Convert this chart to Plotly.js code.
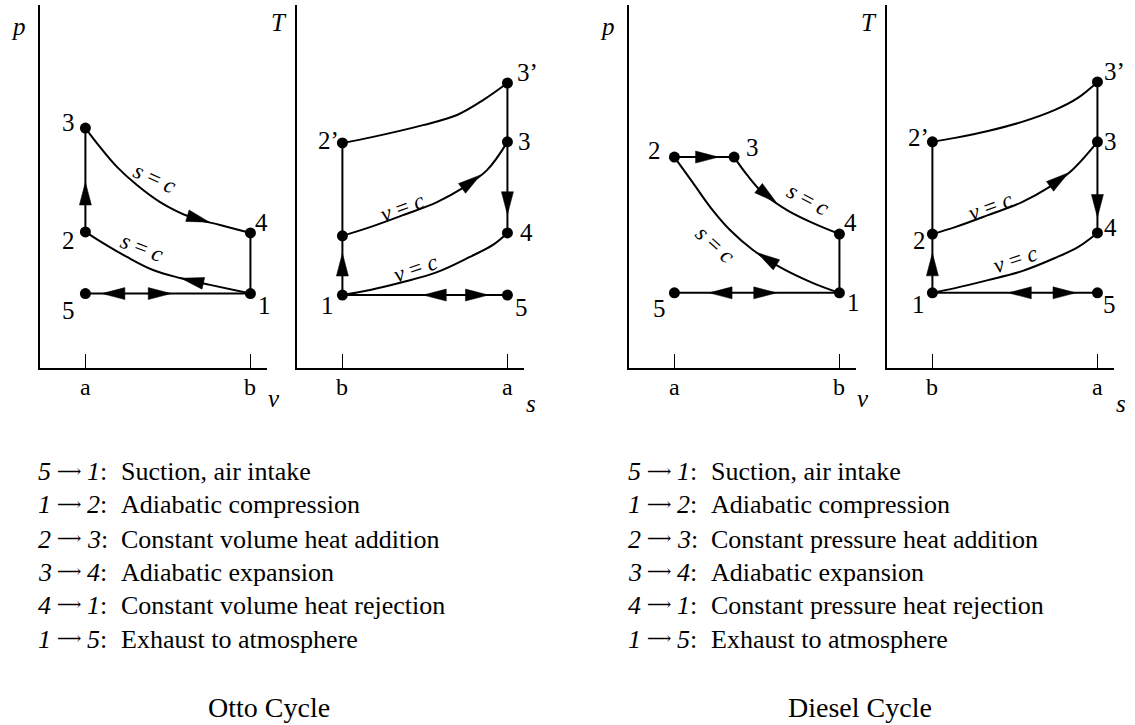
<!DOCTYPE html>
<html>
<head>
<meta charset="utf-8">
<script src="https://cdn.plot.ly/plotly-3.0.1.min.js"></script>
<style>html,body{margin:0;padding:0;background:#fff;}#chart{width:1135px;height:725px;}</style>
</head>
<body>
<div id="chart"></div>
<script>
// ---------------- DATA (schematic values) ----------------
const tickVals = [2.0, 9.27];
const pvTickText = ['a', 'b'];
const tsTickText = ['b', 'a'];

// Otto cycle, p-v diagram
const ottoPV_labels = ['1', '2', '3', '4', '5'];
const ottoPV_v = [9.27, 2.0, 2.0, 9.27, 2.0];
const ottoPV_p = [2.05, 3.75, 6.61, 3.72, 2.05];
const ottoPV_comp_v = [9.27, 7.49, 6.17, 4.98, 3.83, 2.78, 2.0];      // 1 -> 2 (s = c)
const ottoPV_comp_p = [2.05, 2.29, 2.48, 2.70, 3.06, 3.44, 3.75];
const ottoPV_exp_v = [2.0, 2.64, 3.39, 4.27, 5.29, 6.61, 7.93, 9.27]; // 3 -> 4 (s = c)
const ottoPV_exp_p = [6.61, 6.09, 5.54, 5.04, 4.57, 4.16, 3.94, 3.72];

// Otto cycle, T-s diagram
const ottoTS_labels = ['1', '2', '2’', '3', '3’', '4', '5'];
const ottoTS_s = [2.0, 2.0, 2.0, 9.27, 9.27, 9.27, 9.27];
const ottoTS_T = [2.01, 3.64, 6.20, 6.23, 7.85, 3.72, 2.01];
const ottoTS_heat_s = [2.0, 3.22, 4.67, 6.17, 7.31, 8.37, 9.27];    // 2 -> 3 (v = c)
const ottoTS_heat_T = [3.64, 3.88, 4.21, 4.57, 4.96, 5.45, 6.23];
const ottoTS_rej_s = [2.0, 3.22, 4.67, 6.17, 7.62, 8.63, 9.27];     // 1 -> 4 (v = c)
const ottoTS_rej_T = [2.01, 2.15, 2.37, 2.64, 3.06, 3.39, 3.72];
const ottoTS_top_s = [2.0, 3.30, 5.55, 7.05, 8.20, 9.27];           // 2' -> 3'
const ottoTS_top_T = [6.20, 6.36, 6.69, 6.97, 7.38, 7.85];

// Diesel cycle, p-v diagram
const dieselPV_labels = ['1', '2', '3', '4', '5'];
const dieselPV_v = [9.27, 2.0, 4.63, 9.27, 2.0];
const dieselPV_p = [2.07, 5.81, 5.81, 3.69, 2.07];
const dieselPV_comp_v = [9.27, 8.11, 6.65, 5.46, 4.45, 3.57, 2.82, 2.0]; // 1 -> 2 (s = c)
const dieselPV_comp_p = [2.07, 2.34, 2.78, 3.25, 3.80, 4.44, 5.10, 5.81];
const dieselPV_exp_v = [4.63, 5.20, 5.90, 6.96, 8.11, 9.27];             // 3 -> 4 (s = c)
const dieselPV_exp_p = [5.81, 5.32, 4.82, 4.35, 3.99, 3.69];

// Diesel cycle, T-s diagram
const dieselTS_labels = ['1', '2', '2’', '3', '3’', '4', '5'];
const dieselTS_s = [2.0, 2.0, 2.0, 9.27, 9.27, 9.27, 9.27];
const dieselTS_T = [2.07, 3.69, 6.23, 6.23, 7.88, 3.72, 2.07];
const dieselTS_heat_s = [2.0, 3.0, 4.45, 5.95, 7.09, 8.15, 9.27];
const dieselTS_heat_T = [3.69, 3.88, 4.21, 4.57, 4.96, 5.45, 6.23];
const dieselTS_rej_s = [2.0, 3.0, 4.45, 5.95, 7.40, 8.41, 9.27];
const dieselTS_rej_T = [2.07, 2.20, 2.42, 2.67, 3.03, 3.33, 3.72];
const dieselTS_top_s = [2.0, 3.0, 4.45, 5.95, 7.40, 8.41, 9.27];
const dieselTS_top_T = [6.23, 6.34, 6.53, 6.78, 7.11, 7.44, 7.88];

// Process descriptions
const stepFrom = ['5', '1', '2', '3', '4', '1'];
const stepTo = ['1', '2', '3', '4', '1', '5'];
const ottoDesc = ['Suction, air intake', 'Adiabatic compression', 'Constant volume heat addition',
  'Adiabatic expansion', 'Constant volume heat rejection', 'Exhaust to atmosphere'];
const dieselDesc = ['Suction, air intake', 'Adiabatic compression', 'Constant pressure heat addition',
  'Adiabatic expansion', 'Constant pressure heat rejection', 'Exhaust to atmosphere'];
const ottoTitle = 'Otto Cycle';
const dieselTitle = 'Diesel Cycle';

// ---------------- LAYOUT / STYLE ----------------
const W = 1135, H = 725;
const FONT = 'Liberation Serif, Times New Roman, serif';
const TOP = 5, BOTTOM = 368;
const XR = [0, 10], YR = [0, 10];
const panels = [
  {xa: 'x', ya: 'y', left: 40, right: 267, xlab: 'v', ylab: 'p', ticks: pvTickText},
  {xa: 'x2', ya: 'y2', left: 297, right: 524, xlab: 's', ylab: 'T', ticks: tsTickText},
  {xa: 'x3', ya: 'y3', left: 629, right: 856, xlab: 'v', ylab: 'p', ticks: pvTickText},
  {xa: 'x4', ya: 'y4', left: 887, right: 1114, xlab: 's', ylab: 'T', ticks: tsTickText},
];

function toPx(p, x, y) {
  return [p.left + (x - XR[0]) / (XR[1] - XR[0]) * (p.right - p.left),
          BOTTOM - (y - YR[0]) / (YR[1] - YR[0]) * (BOTTOM - TOP)];
}
function toData(p, px, py) {
  return [XR[0] + (px - p.left) / (p.right - p.left) * (XR[1] - XR[0]),
          YR[0] + (BOTTOM - py) / (BOTTOM - TOP) * (YR[1] - YR[0])];
}
function pointAtLen(pts, cum, L) {
  L = Math.max(0, Math.min(cum[cum.length - 1], L));
  for (let i = 1; i < pts.length; i++) {
    if (cum[i] >= L) {
      const f = (L - cum[i - 1]) / ((cum[i] - cum[i - 1]) || 1);
      return [pts[i - 1][0] + f * (pts[i][0] - pts[i - 1][0]), pts[i - 1][1] + f * (pts[i][1] - pts[i - 1][1])];
    }
  }
  return pts[pts.length - 1];
}
function arrowTrace(p, xs, ys, t) {
  const HL = 23, HW = 12;
  const pts = xs.map((x, i) => toPx(p, x, ys[i]));
  const cum = [0];
  for (let i = 1; i < pts.length; i++) cum.push(cum[i - 1] + Math.hypot(pts[i][0] - pts[i - 1][0], pts[i][1] - pts[i - 1][1]));
  const target = t * cum[cum.length - 1];
  const tip = pointAtLen(pts, cum, target);
  const back = pointAtLen(pts, cum, target - HL);
  let dx = tip[0] - back[0], dy = tip[1] - back[1];
  const n = Math.hypot(dx, dy) || 1; dx /= n; dy /= n;
  const bx = tip[0] - dx * HL, by = tip[1] - dy * HL;
  const c1 = [bx - dy * HW / 2, by + dx * HW / 2];
  const c2 = [bx + dy * HW / 2, by - dx * HW / 2];
  const poly = [tip, c1, c2, tip].map(q => toData(p, q[0], q[1]));
  return {type: 'scatter', mode: 'lines', x: poly.map(q => q[0]), y: poly.map(q => q[1]),
    xaxis: p.xa, yaxis: p.ya, fill: 'toself', fillcolor: 'black',
    line: {color: 'black', width: 0.5}, hoverinfo: 'skip', cliponaxis: false};
}
function lineTrace(p, xs, ys, spline) {
  return {type: 'scatter', mode: 'lines', x: xs, y: ys, xaxis: p.xa, yaxis: p.ya,
    line: {color: 'black', width: 2, shape: spline ? 'spline' : 'linear', smoothing: 1},
    hoverinfo: 'skip', cliponaxis: false};
}
function markerTrace(p, xs, ys) {
  return {type: 'scatter', mode: 'markers', x: xs, y: ys, xaxis: p.xa, yaxis: p.ya,
    marker: {color: 'black', size: 11}, hoverinfo: 'skip', cliponaxis: false};
}
function st(labels, xs, ys, name) { const i = labels.indexOf(name); return [xs[i], ys[i]]; }
function seg(labels, xs, ys, a, b) {
  const A = st(labels, xs, ys, a), B = st(labels, xs, ys, b);
  return [[A[0], B[0]], [A[1], B[1]]];
}

const traces = [];
const annotations = [];

// ---- Panel 1: Otto p-v
{
  const p = panels[0], L = ottoPV_labels, X = ottoPV_v, Y = ottoPV_p;
  const s51 = seg(L, X, Y, '5', '1'), s15 = seg(L, X, Y, '1', '5');
  const s23 = seg(L, X, Y, '2', '3'), s41 = seg(L, X, Y, '4', '1');
  traces.push(lineTrace(p, s51[0], s51[1]));
  traces.push(lineTrace(p, s23[0], s23[1]));
  traces.push(lineTrace(p, s41[0], s41[1]));
  traces.push(lineTrace(p, ottoPV_comp_v, ottoPV_comp_p, true));
  traces.push(lineTrace(p, ottoPV_exp_v, ottoPV_exp_p, true));
  traces.push(arrowTrace(p, s23[0], s23[1], 0.48));
  traces.push(arrowTrace(p, ottoPV_exp_v, ottoPV_exp_p, 0.79));
  traces.push(arrowTrace(p, ottoPV_comp_v, ottoPV_comp_p, 0.40));
  traces.push(arrowTrace(p, s15[0], s15[1], 0.90));
  traces.push(arrowTrace(p, s51[0], s51[1], 0.52));
  traces.push(markerTrace(p, X, Y));
  p.offsets = {'1': [14, -12], '2': [-17, -9], '3': [-17, 6], '4': [11, 10], '5': [-17, -17]};
  p.L = L; p.X = X; p.Y = Y;
  p.curveText = [
    {x: 5.07, y: 5.23, angle: 24, t: '<i>s</i> = <i>c</i>'},
    {x: 4.49, y: 3.31, angle: 21, t: '<i>s</i> = <i>c</i>'}];
}
// ---- Panel 2: Otto T-s
{
  const p = panels[1], L = ottoTS_labels, X = ottoTS_s, Y = ottoTS_T;
  const s15 = seg(L, X, Y, '1', '5'), s51 = seg(L, X, Y, '5', '1');
  const s12 = seg(L, X, Y, '1', '2'), s22 = seg(L, X, Y, '2', '2’');
  const s33 = seg(L, X, Y, '3’', '3'), s34 = seg(L, X, Y, '3', '4');
  traces.push(lineTrace(p, s15[0], s15[1]));
  traces.push(lineTrace(p, s12[0], s12[1]));
  traces.push(lineTrace(p, s22[0], s22[1]));
  traces.push(lineTrace(p, s33[0], s33[1]));
  traces.push(lineTrace(p, s34[0], s34[1]));
  traces.push(lineTrace(p, ottoTS_heat_s, ottoTS_heat_T, true));
  traces.push(lineTrace(p, ottoTS_rej_s, ottoTS_rej_T, true));
  traces.push(lineTrace(p, ottoTS_top_s, ottoTS_top_T, true));
  traces.push(arrowTrace(p, s12[0], s12[1], 0.71));
  traces.push(arrowTrace(p, ottoTS_heat_s, ottoTS_heat_T, 0.78));
  traces.push(arrowTrace(p, s34[0], s34[1], 0.80));
  traces.push(arrowTrace(p, s51[0], s51[1], 0.51));
  traces.push(arrowTrace(p, s15[0], s15[1], 0.885));
  traces.push(markerTrace(p, X, Y));
  p.offsets = {'1': [-15, -10], '2’': [-14, 2], '3': [17, 0], '3’': [20, 11], '4': [19, 0], '5': [14, -12]};
  p.L = L; p.X = X; p.Y = Y;
  p.curveText = [
    {x: 4.63, y: 4.41, angle: -20, t: '<i>v</i> = <i>c</i>'},
    {x: 5.20, y: 2.75, angle: -19, t: '<i>v</i> = <i>c</i>'}];
}
// ---- Panel 3: Diesel p-v
{
  const p = panels[2], L = dieselPV_labels, X = dieselPV_v, Y = dieselPV_p;
  const s51 = seg(L, X, Y, '5', '1'), s15 = seg(L, X, Y, '1', '5');
  const s23 = seg(L, X, Y, '2', '3'), s41 = seg(L, X, Y, '4', '1');
  traces.push(lineTrace(p, s51[0], s51[1]));
  traces.push(lineTrace(p, s23[0], s23[1]));
  traces.push(lineTrace(p, s41[0], s41[1]));
  traces.push(lineTrace(p, dieselPV_comp_v, dieselPV_comp_p, true));
  traces.push(lineTrace(p, dieselPV_exp_v, dieselPV_exp_p, true));
  traces.push(arrowTrace(p, s23[0], s23[1], 0.74));
  traces.push(arrowTrace(p, dieselPV_exp_v, dieselPV_exp_p, 0.47));
  traces.push(arrowTrace(p, dieselPV_comp_v, dieselPV_comp_p, 0.42));
  traces.push(arrowTrace(p, s15[0], s15[1], 0.79));
  traces.push(arrowTrace(p, s51[0], s51[1], 0.62));
  traces.push(markerTrace(p, X, Y));
  p.offsets = {'1': [14, -10], '2': [-20, 7], '3': [18, 10], '4': [11, 12], '5': [-15, -16]};
  p.L = L; p.X = X; p.Y = Y;
  p.curveText = [
    {x: 7.89, y: 4.63, angle: 28, t: '<i>s</i> = <i>c</i>'},
    {x: 3.79, y: 3.39, angle: 42, t: '<i>s</i> = <i>c</i>'}];
}
// ---- Panel 4: Diesel T-s
{
  const p = panels[3], L = dieselTS_labels, X = dieselTS_s, Y = dieselTS_T;
  const s15 = seg(L, X, Y, '1', '5'), s51 = seg(L, X, Y, '5', '1');
  const s12 = seg(L, X, Y, '1', '2'), s22 = seg(L, X, Y, '2', '2’');
  const s33 = seg(L, X, Y, '3’', '3'), s34 = seg(L, X, Y, '3', '4');
  traces.push(lineTrace(p, s15[0], s15[1]));
  traces.push(lineTrace(p, s12[0], s12[1]));
  traces.push(lineTrace(p, s22[0], s22[1]));
  traces.push(lineTrace(p, s33[0], s33[1]));
  traces.push(lineTrace(p, s34[0], s34[1]));
  traces.push(lineTrace(p, dieselTS_heat_s, dieselTS_heat_T, true));
  traces.push(lineTrace(p, dieselTS_rej_s, dieselTS_rej_T, true));
  traces.push(lineTrace(p, dieselTS_top_s, dieselTS_top_T, true));
  traces.push(arrowTrace(p, s12[0], s12[1], 0.68));
  traces.push(arrowTrace(p, dieselTS_heat_s, dieselTS_heat_T, 0.78));
  traces.push(arrowTrace(p, s34[0], s34[1], 0.83));
  traces.push(arrowTrace(p, s51[0], s51[1], 0.54));
  traces.push(arrowTrace(p, s15[0], s15[1], 0.87));
  traces.push(markerTrace(p, X, Y));
  p.offsets = {'1': [-14, -12], '2': [-13, -6], '2’': [-14, 4], '3': [13, 0], '3’': [17, 10], '4': [13, 5], '5': [12, -12]};
  p.L = L; p.X = X; p.Y = Y;
  p.curveText = [
    {x: 4.54, y: 4.44, angle: -20, t: '<i>v</i> = <i>c</i>'},
    {x: 5.64, y: 2.98, angle: -18, t: '<i>v</i> = <i>c</i>'}];
}

// state labels, curve labels, axis letters, tick labels
panels.forEach(p => {
  p.L.forEach((lab, i) => {
    const off = p.offsets[lab];
    if (!off) return;
    annotations.push({xref: p.xa, yref: p.ya, x: p.X[i], y: p.Y[i], text: lab, showarrow: false,
      xshift: off[0], yshift: off[1], xanchor: 'center', yanchor: 'middle',
      font: {family: FONT, size: 25, color: 'black'}});
  });
  p.curveText.forEach(c => {
    annotations.push({xref: p.xa, yref: p.ya, x: c.x, y: c.y, text: c.t, showarrow: false,
      textangle: c.angle, xanchor: 'center', yanchor: 'middle',
      font: {family: FONT, size: 23, color: 'black'}});
  });
  tickVals.forEach((tv, i) => {
    annotations.push({xref: p.xa, yref: p.ya + ' domain', x: tv, y: 0, text: p.ticks[i], showarrow: false,
      yshift: -19, xanchor: 'center', yanchor: 'middle',
      font: {family: FONT, size: 24, color: 'black'}});
  });
  annotations.push({xref: p.xa + ' domain', yref: p.ya + ' domain', x: 0, y: 1,
    text: '<i>' + p.ylab + '</i>', showarrow: false,
    xshift: p.ylab === 'p' ? -22 : -18, yshift: p.ylab === 'p' ? -21 : -17,
    xanchor: 'center', yanchor: 'middle', font: {family: FONT, size: 25, color: 'black'}});
  annotations.push({xref: p.xa + ' domain', yref: p.ya + ' domain', x: 1, y: 0,
    text: '<i>' + p.xlab + '</i>', showarrow: false,
    xshift: 7, yshift: p.xlab === 'v' ? -30 : -35, xanchor: 'center', yanchor: 'middle',
    font: {family: FONT, size: 25, color: 'black'}});
});

// process description blocks
const lineY = [472, 505, 539, 572, 605, 639];
function block(x0, desc, title, titleX) {
  desc.forEach((d, i) => {
    const yy = 1 - lineY[i] / H;
    annotations.push({xref: 'paper', yref: 'paper', x: x0 / W, y: yy, xanchor: 'left', yanchor: 'middle',
      text: '<i>' + stepFrom[i] + '</i>', showarrow: false, font: {family: FONT, size: 26, color: 'black'}});
    annotations.push({xref: 'paper', yref: 'paper', x: (x0 + 33) / W, y: yy, xanchor: 'center', yanchor: 'middle',
      text: '⟶', showarrow: false, yshift: 1, font: {family: 'DejaVu Serif', size: 17, color: 'black'}});
    annotations.push({xref: 'paper', yref: 'paper', x: (x0 + 49) / W, y: yy, xanchor: 'left', yanchor: 'middle',
      text: '<i>' + stepTo[i] + '</i>:', showarrow: false, font: {family: FONT, size: 26, color: 'black'}});
    annotations.push({xref: 'paper', yref: 'paper', x: (x0 + 83) / W, y: yy, xanchor: 'left', yanchor: 'middle',
      text: d, showarrow: false, font: {family: FONT, size: 26, color: 'black'}});
  });
  annotations.push({xref: 'paper', yref: 'paper', x: titleX / W, y: 1 - 707 / H, xanchor: 'center', yanchor: 'middle',
    text: title, showarrow: false, font: {family: FONT, size: 28, color: 'black'}});
}
block(36, ottoDesc, ottoTitle, 269);
block(626, dieselDesc, dieselTitle, 860);

const layout = {
  width: W, height: H, margin: {l: 0, r: 0, t: 0, b: 0, pad: 0},
  paper_bgcolor: 'white', plot_bgcolor: 'rgba(0,0,0,0)', showlegend: false,
  annotations: annotations
};
panels.forEach((p, k) => {
  const sx = k === 0 ? '' : String(k + 1);
  layout['xaxis' + sx] = {domain: [p.left / W, p.right / W], range: XR, anchor: p.ya,
    showline: true, linewidth: 2, linecolor: 'black', ticks: 'inside', ticklen: 14, tickwidth: 1.5,
    tickcolor: 'black', tickvals: tickVals, ticktext: p.ticks, showticklabels: false,
    showgrid: false, zeroline: false, fixedrange: true};
  layout['yaxis' + sx] = {domain: [(H - BOTTOM) / H, (H - TOP) / H], range: YR, anchor: p.xa,
    showline: true, linewidth: 2, linecolor: 'black', ticks: '', showticklabels: false,
    showgrid: false, zeroline: false, fixedrange: true};
});

Plotly.newPlot('chart', traces, layout, {displayModeBar: false, staticPlot: true});
</script>
</body>
</html>
